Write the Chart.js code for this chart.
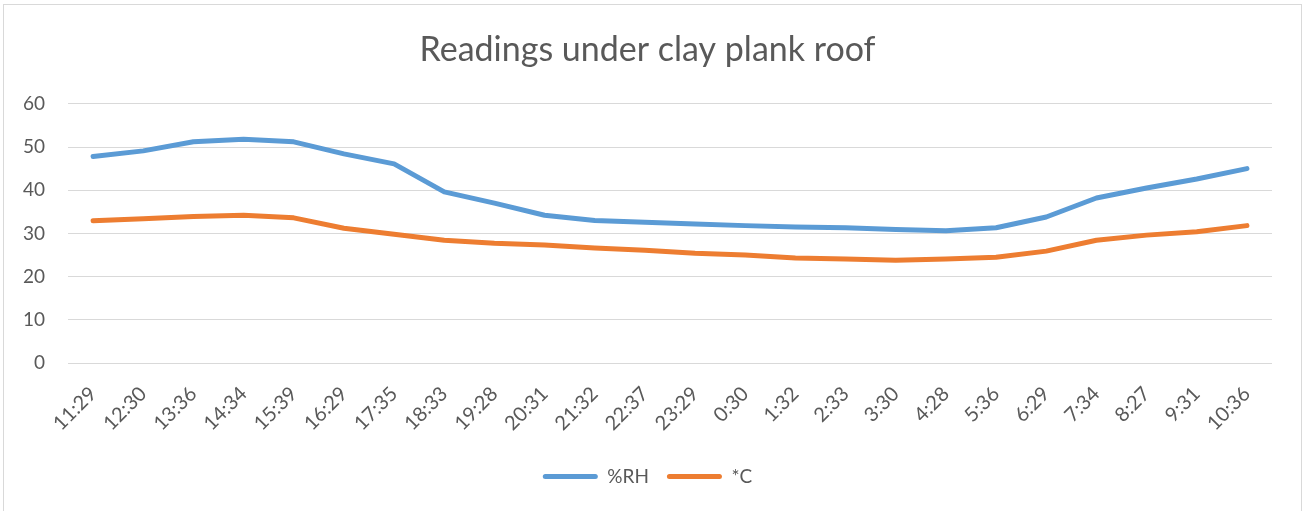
<!DOCTYPE html>
<html>
<head>
<meta charset="utf-8">
<script src="https://cdn.jsdelivr.net/npm/chart.js@4.4.0/dist/chart.umd.min.js"></script>
<style>
  html, body { margin: 0; padding: 0; background: #fff; }
  #frame { position: absolute; left: 3px; top: 4px; width: 1299px; height: 520px; border: 1px solid #d9d9d9; box-sizing: border-box; }
  #wrap { position: absolute; left: 0; top: 0; width: 1309px; height: 511px; }
</style>
</head>
<body>
<div id="frame"></div>
<div id="wrap"><canvas id="c" width="1309" height="511"></canvas></div>
<script>
const categories = ["11:29","12:30","13:36","14:34","15:39","16:29","17:35","18:33","19:28","20:31","21:32","22:37","23:29","0:30","1:32","2:33","3:30","4:28","5:36","6:29","7:34","8:27","9:31","10:36"];
const rhValues = [47.8,49.1,51.2,51.8,51.2,48.4,46.1,39.6,37.0,34.2,33.0,32.6,32.2,31.8,31.5,31.3,30.9,30.6,31.3,33.8,38.2,40.5,42.6,45.0];
const tempValues = [32.9,33.4,33.9,34.2,33.6,31.2,29.8,28.4,27.7,27.3,26.6,26.1,25.4,25.0,24.3,24.1,23.8,24.1,24.5,25.9,28.4,29.6,30.4,31.8];
const yTicks = [0,10,20,30,40,50,60];

const FONT = "Lato, 'Open Sans', 'Liberation Sans', sans-serif";
const GREY = "#595959";

new Chart(document.getElementById("c"), {
  type: "line",
  data: {
    labels: categories,
    datasets: [
      { label: "%RH", data: rhValues, borderColor: "#5B9BD5", backgroundColor: "#5B9BD5", borderWidth: 5, pointRadius: 0, tension: 0, borderCapStyle: "round", borderJoinStyle: "round" },
      { label: "*C", data: tempValues, borderColor: "#ED7D31", backgroundColor: "#ED7D31", borderWidth: 5, pointRadius: 0, tension: 0, borderCapStyle: "round", borderJoinStyle: "round" }
    ]
  },
  options: {
    responsive: false,
    animation: false,
    layout: { padding: { left: 23, right: 37, top: 0, bottom: 15 } },
    plugins: {
      title: { display: true, text: "Readings under clay plank roof", color: GREY, font: { family: FONT, size: 34, weight: "normal" }, padding: { top: 30, bottom: 33 } },
      legend: {
        position: "bottom",
        labels: {
          color: GREY, font: { family: FONT, size: 19 },
          boxWidth: 55, boxHeight: 5, padding: 18, useBorderRadius: true, borderRadius: 2.5,
          generateLabels(chart) {
            return chart.data.datasets.map((ds, i) => ({
              text: ds.label, fillStyle: ds.borderColor, strokeStyle: ds.borderColor, lineWidth: 0, borderRadius: 2.5, datasetIndex: i, hidden: false, fontColor: GREY
            }));
          }
        }
      },
      tooltip: { enabled: false }
    },
    scales: {
      x: {
        offset: true,
        grid: { display: false },
        border: { display: false },
        ticks: { color: GREY, font: { family: FONT, size: 20 }, minRotation: 45, maxRotation: 45, autoSkip: false, padding: 11 },
        afterFit(scale) { scale.height = 86; scale.paddingLeft = 0; scale.paddingRight = 0; }
      },
      y: {
        min: 0, max: 60,
        afterBuildTicks(scale) { scale.ticks = yTicks.map(v => ({ value: v })); },
        grid: { color: "#D9D9D9", lineWidth: 1, drawTicks: false },
        border: { display: false },
        ticks: { color: GREY, font: { family: FONT, size: 19 }, padding: 23 },
        afterFit(scale) { scale.width = 45; }
      }
    }
  }
});
</script>
</body>
</html>
